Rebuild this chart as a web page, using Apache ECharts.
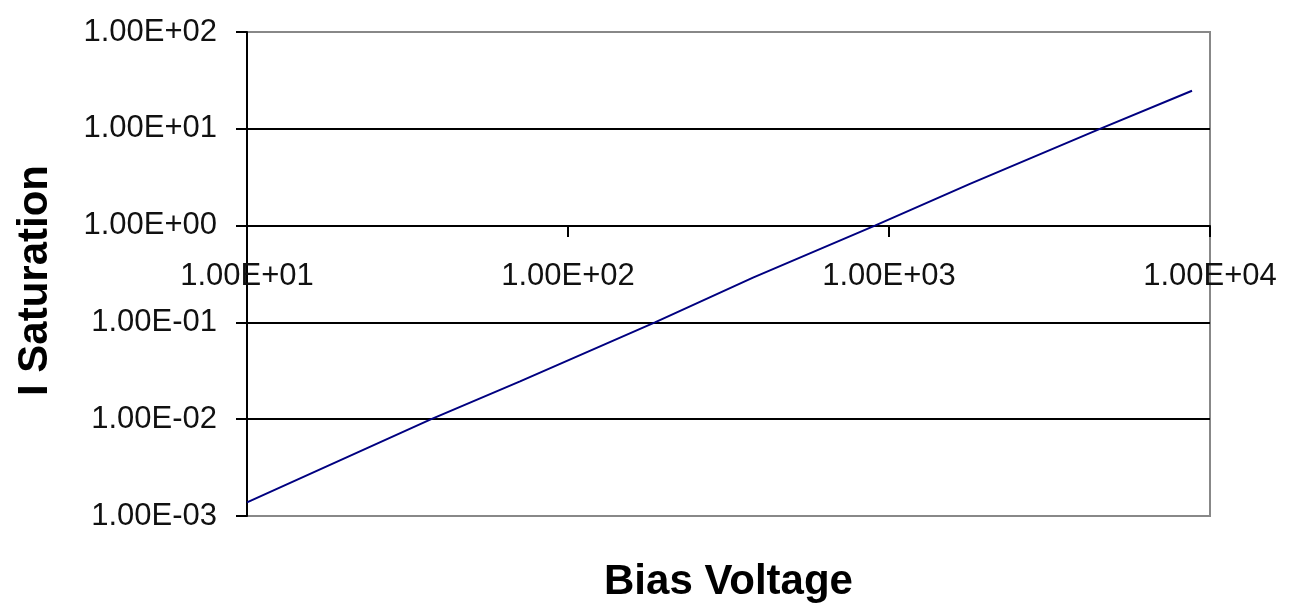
<!DOCTYPE html>
<html>
<head>
<meta charset="utf-8">
<title>I Saturation vs Bias Voltage</title>
<script src="https://cdn.jsdelivr.net/npm/echarts@6/dist/echarts.min.js"></script>
<style>
  html, body { margin: 0; padding: 0; background: #fff; }
  #chart { width: 1293px; height: 608px; }
</style>
</head>
<body>
<div id="chart"></div>
<script>
// values
const biasVoltage = [10, 37.5, 70.9, 186.6, 377, 904, 1787, 4541, 8790]
const iSaturation = [0.00138, 0.01, 0.0246, 0.1, 0.29, 1.0, 2.7, 10, 24.7]
const xTickLabels = ['1.00E+01', '1.00E+02', '1.00E+03', '1.00E+04']
const yTickLabels = ['1.00E-03', '1.00E-02', '1.00E-01', '1.00E+00', '1.00E+01', '1.00E+02']

const fontFamily = '"Liberation Sans", Arial, sans-serif'

function tickLabel (labels, firstExp) {
  return function (value) {
    const i = Math.round(Math.log10(value)) - firstExp
    return labels[i] !== undefined ? labels[i] : ''
  }
}

const chart = echarts.init(document.getElementById('chart'), null, { renderer: 'canvas' })

const options = {
  backgroundColor: '#fff',
  animation: false,
  grid: {
    left: 247,
    right: 83,
    top: 32,
    bottom: 91,
    show: true,
    borderColor: '#888',
    borderWidth: 2,
    backgroundColor: 'transparent'
  },
  xAxis: {
    type: 'log',
    logBase: 10,
    min: 10,
    max: 10000,
    position: 'bottom',
    // move the axis up so it crosses the y axis at 1.00E+00
    offset: -290,
    name: 'Bias Voltage',
    nameLocation: 'middle',
    nameGap: 335,
    nameTextStyle: {
      fontFamily: fontFamily,
      fontSize: 42,
      fontWeight: 'bold',
      color: '#000'
    },
    axisLine: {
      show: true,
      onZero: false,
      lineStyle: { color: '#000', width: 2 }
    },
    axisTick: {
      show: true,
      inside: false,
      length: 11,
      lineStyle: { color: '#000', width: 2 }
    },
    axisLabel: {
      margin: 35,
      fontFamily: fontFamily,
      fontSize: 31,
      color: '#111',
      showMinLabel: true,
      showMaxLabel: true,
      formatter: tickLabel(xTickLabels, 1)
    },
    splitLine: { show: false },
    minorTick: { show: false }
  },
  yAxis: {
    type: 'log',
    logBase: 10,
    min: 0.001,
    max: 100,
    name: 'I Saturation',
    nameLocation: 'middle',
    nameGap: 191,
    nameTextStyle: {
      fontFamily: fontFamily,
      fontSize: 42,
      fontWeight: 'bold',
      color: '#000',
      padding: [0, 13, 0, 0]
    },
    axisLine: {
      show: true,
      lineStyle: { color: '#000', width: 2 }
    },
    axisTick: {
      show: true,
      inside: false,
      length: 11,
      lineStyle: { color: '#000', width: 2 }
    },
    axisLabel: {
      margin: 30,
      fontFamily: fontFamily,
      fontSize: 31,
      color: '#111',
      showMinLabel: true,
      showMaxLabel: true,
      formatter: tickLabel(yTickLabels, -3)
    },
    splitLine: {
      show: true,
      lineStyle: {
        color: ['#888', '#000', '#000', '#000', '#000', '#888'],
        width: 2
      }
    }
  },
  series: [
    {
      type: 'line',
      data: biasVoltage.map((v, i) => [v, iSaturation[i]]),
      showSymbol: false,
      symbol: 'none',
      smooth: false,
      lineStyle: { color: '#000080', width: 2 }
    }
  ]
}

chart.setOption(options, true)
</script>
</body>
</html>
